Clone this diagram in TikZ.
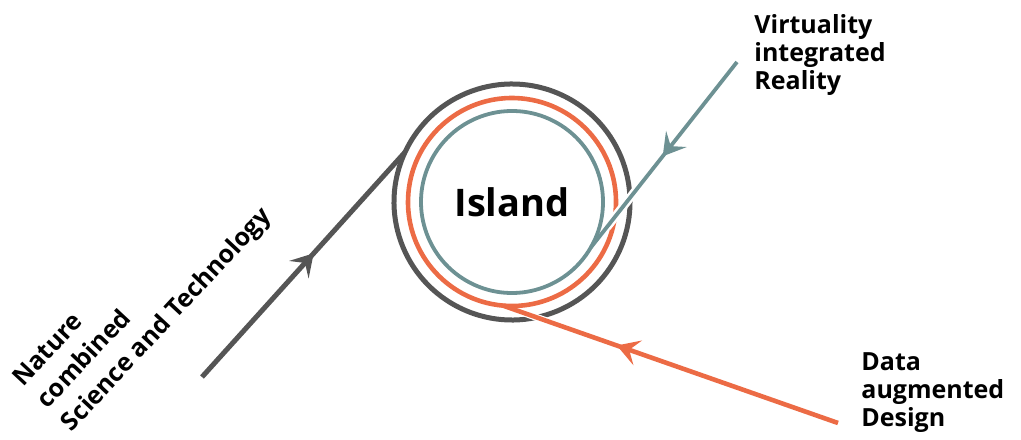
\documentclass[tikz,border=0pt]{standalone}
\usepackage{fontspec}
\setmainfont{Open Sans}
\usepackage{tikz}
\usetikzlibrary{arrows.meta,calc,decorations.markings}
\definecolor{islgray}{HTML}{555555}
\definecolor{islorange}{HTML}{EC6B45}
\definecolor{islteal}{HTML}{6D9193}

\begin{document}
\begin{tikzpicture}[x=0.5pt,y=0.5pt,
  lbl/.style={font=\fontsize{12.5}{14}\selectfont\bfseries, align=left, inner sep=0pt},
  midarrow/.style={postaction=decorate, decoration={markings,
    mark=at position #1 with {\arrow{Stealth[length=11pt,width=13pt,inset=4.5pt]}}}},
  gapline/.style={white, line width=#1}]
  \useasboundingbox (0,0) rectangle (1021,439);
  \coordinate (c) at (512,237);

  % gray spiral
  \coordinate (gs) at (202,62);
  \coordinate (gj) at ([shift={(155:118)}]c);
  \draw[islgray, line width=2.5pt] (gj) arc[start angle=155, end angle=-205, radius=118];
  \draw[islgray, line width=2.5pt, midarrow=0.55] (gs) -- (gj);

  % orange spiral
  \coordinate (os) at (838,16);
  \coordinate (oj) at ([shift={(-95:104)}]c);
  \draw[gapline=3.5pt] ($(os)!0.86!(oj)$) -- ($(os)!0.942!(oj)$);
  \draw[islorange, line width=2.3pt] (oj) arc[start angle=-95, end angle=-455, radius=104];
  \draw[islorange, line width=2.3pt, midarrow=0.66] (os) -- (oj);

  % teal spiral
  \coordinate (ts) at (737,377);
  \coordinate (tj) at ([shift={(-30:91)}]c);
  \draw[gapline=4.4pt] ($(ts)!0.68!(tj)$) -- ($(ts)!0.89!(tj)$);
  \draw[islteal, line width=1.9pt] (tj) arc[start angle=-30, end angle=-390, radius=91];
  \draw[islteal, line width=1.9pt, midarrow=0.51] (ts) -- (tj);

  \node[font=\fontsize{19}{21}\selectfont\bfseries] (isl) at (c) {Island};
  \node[lbl, anchor=north west] (vir) at (754,425) {Virtuality\\integrated\\Reality};
  \node[lbl, anchor=north west] (dat) at (861,87) {Data\\augmented\\Design};
  \node[lbl, font=\fontsize{12.5}{16.5}\selectfont\bfseries, rotate=47, anchor=north west] (nat) at (10,64)
    {Nature\\combined\\Science and Technology};
\end{tikzpicture}
\end{document}
